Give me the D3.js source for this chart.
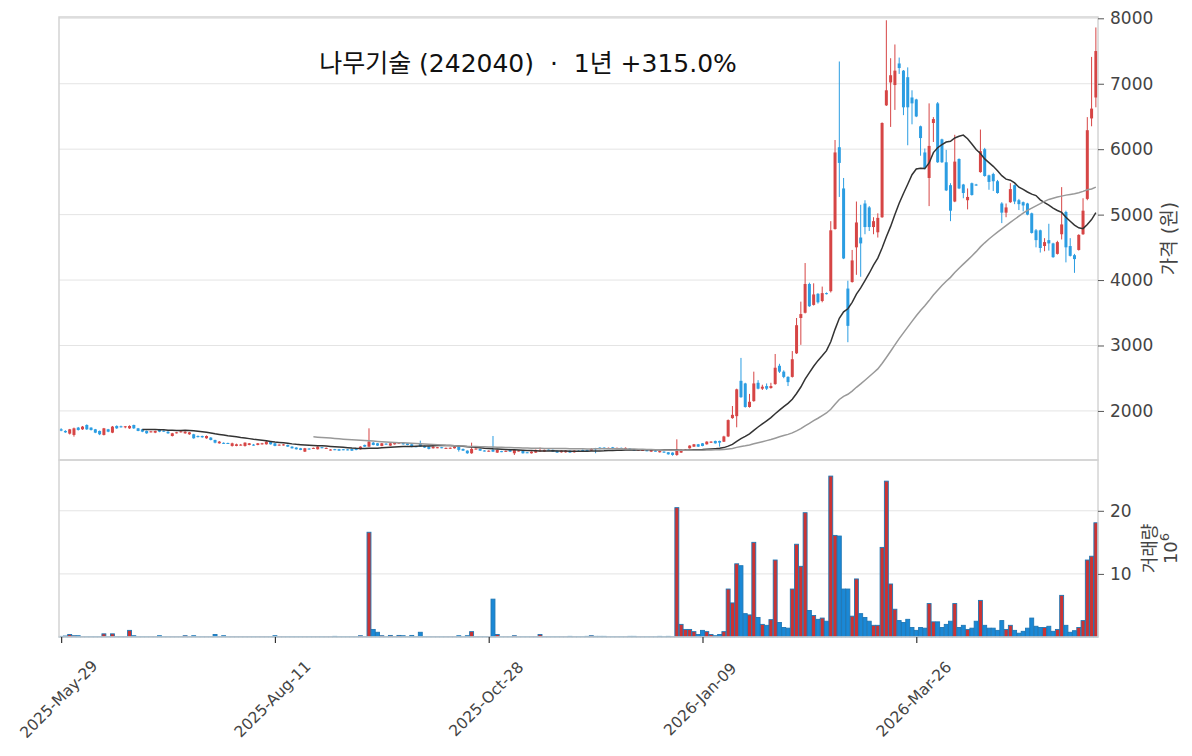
<!DOCTYPE html>
<html>
<head>
<meta charset="utf-8">
<script src="https://cdn.jsdelivr.net/npm/d3@7"></script>
<style>
  body { margin: 0; background: #fff; }
  svg { display: block; font-family: "DejaVu Sans", "Noto Sans CJK KR", sans-serif; }
</style>
</head>
<body>
<figure id="chart" style="margin:0"></figure>
<script>
// daily OHLC, one entry per trading day
const opens = [
  1719,1694,1653,1633,1745,1719,1785,1745,1719,1694,
  1633,1719,1668,1770,1765,1755,1734,1785,1734,1719,
  1694,1678,1668,1719,1698,1683,1617,1663,1678,1658,
  1643,1643,1617,1617,1582,1592,1556,1505,1512,1510,
  1465,1465,1475,1465,1480,1485,1480,1490,1490,1531,
  1505,1475,1478,1480,1454,1440,1429,1378,1425,1425,
  1414,1445,1425,1400,1415,1414,1414,1412,1419,1429,
  1414,1480,1454,1515,1505,1465,1500,1470,1490,1505,
  1515,1505,1490,1460,1505,1465,1454,1429,1435,1445,
  1425,1427,1429,1454,1419,1393,1353,1415,1419,1395,
  1382,1404,1363,1385,1380,1414,1353,1385,1393,1368,
  1353,1363,1385,1378,1408,1404,1393,1368,1368,1393,
  1368,1392,1404,1404,1393,1429,1439,1439,1425,1444,
  1425,1435,1425,1425,1410,1400,1393,1398,1378,1392,
  1368,1378,1368,1363,1327,1363,1400,1429,1454,1490,
  1505,1490,1515,1541,1541,1530,1610,1890,1920,2460,
  2420,2060,2150,2430,2340,2380,2350,2410,2690,2600,
  2520,2520,2880,3420,3500,3940,3620,3790,3680,3800,
  3830,4780,6030,5400,3870,3970,4500,4650,5170,5110,
  4810,4730,4960,6670,7020,6980,7310,7200,7100,6790,
  6760,6350,5950,5560,6400,6700,6150,5800,5450,5200,
  5850,5460,5220,5480,5460,5650,6000,5600,5620,5510,
  5170,5030,5190,5450,5220,5190,5170,5020,4760,4760,
  4520,4610,4560,4400,4700,5040,4520,4380,4460,4700,
  5240,6470,6790
];
const highs = [
  1735,1705,1725,1745,1755,1770,1795,1750,1725,1700,
  1740,1725,1770,1780,1775,1770,1780,1790,1740,1725,
  1700,1695,1700,1725,1705,1690,1665,1680,1695,1690,
  1680,1650,1625,1622,1625,1600,1560,1540,1520,1515,
  1515,1500,1495,1520,1510,1495,1510,1512,1540,1535,
  1510,1490,1495,1485,1460,1445,1435,1435,1430,1440,
  1460,1450,1440,1415,1420,1420,1420,1418,1425,1435,
  1460,1485,1734,1525,1510,1510,1505,1510,1522,1520,
  1520,1510,1495,1465,1546,1470,1460,1460,1450,1450,
  1440,1442,1460,1460,1425,1398,1515,1430,1425,1400,
  1398,1617,1410,1390,1395,1420,1410,1400,1398,1372,
  1383,1410,1440,1410,1412,1410,1398,1398,1400,1398,
  1398,1398,1410,1408,1430,1435,1445,1445,1440,1450,
  1440,1440,1442,1430,1415,1415,1410,1402,1410,1398,
  1393,1383,1372,1368,1566,1410,1415,1475,1495,1495,
  1510,1536,1536,1546,1546,1620,1870,2075,2340,2810,
  2430,2260,2600,2470,2400,2420,2430,2870,2720,2620,
  2530,2915,3420,3670,4260,3960,3950,3800,3900,3810,
  4900,6140,7340,5560,3990,4460,5200,5150,5220,5130,
  4960,5020,6410,7970,7390,7600,7400,7210,7250,6900,
  6770,6360,6010,6700,6490,6720,6160,5990,5480,6220,
  5860,5470,5400,5490,5470,6300,6020,5610,5640,5530,
  5190,5170,5480,5460,5240,5200,5180,5030,4780,4770,
  4640,4860,4570,4600,5420,5060,4640,4400,4700,5250,
  6490,7410,7860
];
const lows = [
  1690,1665,1640,1607,1700,1710,1710,1700,1660,1630,
  1625,1675,1660,1725,1745,1735,1725,1725,1690,1675,
  1650,1670,1660,1675,1680,1650,1610,1655,1670,1650,
  1635,1575,1595,1590,1575,1550,1505,1500,1495,1495,
  1455,1460,1470,1455,1475,1468,1475,1485,1485,1485,
  1460,1470,1470,1450,1425,1410,1400,1372,1410,1420,
  1410,1430,1420,1395,1400,1390,1400,1398,1388,1398,
  1410,1450,1450,1475,1465,1460,1485,1465,1485,1500,
  1485,1475,1445,1445,1450,1435,1412,1425,1430,1430,
  1420,1420,1425,1378,1388,1345,1345,1410,1388,1380,
  1378,1372,1358,1370,1375,1372,1327,1380,1348,1355,
  1348,1358,1378,1372,1395,1372,1358,1362,1362,1358,
  1362,1380,1372,1375,1388,1353,1414,1414,1420,1414,
  1420,1420,1420,1410,1395,1395,1388,1385,1372,1380,
  1362,1358,1332,1315,1315,1358,1395,1425,1450,1450,
  1460,1485,1510,1500,1454,1525,1600,1880,1750,2200,
  2050,2050,2140,2330,2320,2320,2340,2400,2580,2500,
  2380,2510,2870,3010,3490,3590,3610,3640,3660,3780,
  3810,4770,5270,4320,3050,3960,4080,4050,4700,4750,
  4700,4650,4950,6660,6340,6600,7150,6520,6060,6380,
  6490,5900,5690,5130,6110,5790,5790,5360,4900,5190,
  5390,5250,5080,5290,5440,5640,5580,5380,5360,5320,
  4870,4960,5180,5160,5070,5050,4990,4710,4500,4420,
  4440,4450,4340,4390,4620,4270,4360,4110,4450,4690,
  5220,6350,6640
];
const closes = [
  1699,1673,1719,1734,1709,1760,1719,1709,1668,1643,
  1734,1683,1760,1734,1755,1765,1770,1734,1694,1683,
  1658,1688,1694,1683,1688,1658,1658,1673,1688,1683,
  1673,1582,1600,1597,1617,1556,1515,1531,1500,1500,
  1505,1490,1485,1515,1505,1475,1505,1505,1531,1490,
  1465,1485,1488,1454,1429,1414,1404,1429,1415,1435,
  1454,1435,1435,1410,1405,1393,1405,1404,1393,1404,
  1454,1454,1531,1480,1470,1505,1490,1505,1515,1515,
  1490,1480,1454,1450,1454,1440,1419,1454,1445,1435,
  1435,1437,1454,1404,1393,1353,1419,1425,1393,1385,
  1392,1378,1404,1375,1390,1378,1404,1395,1353,1360,
  1378,1404,1395,1404,1400,1378,1363,1393,1393,1363,
  1393,1385,1378,1380,1419,1414,1419,1419,1435,1419,
  1435,1425,1435,1415,1400,1410,1404,1390,1404,1385,
  1388,1363,1337,1327,1404,1404,1410,1470,1490,1454,
  1465,1531,1531,1505,1515,1610,1860,1940,2330,2210,
  2060,2140,2420,2340,2370,2340,2380,2660,2600,2520,
  2440,2790,3310,3480,3940,3600,3780,3660,3800,3790,
  4760,5950,5790,4330,3300,4300,4880,4560,4810,4810,
  4900,4950,6400,6900,7130,7200,7240,6640,6640,6700,
  6500,6170,5710,6050,6460,5800,5800,5370,5060,5810,
  5400,5330,5270,5300,5450,5970,5590,5500,5510,5330,
  5030,5110,5390,5200,5160,5140,5000,4720,4610,4490,
  4580,4560,4350,4580,4850,4500,4370,4320,4690,5060,
  6290,6620,7500
];
// volume in millions of shares
const volumes = [
  0.1,0.15,0.4,0.2,0.2,0.05,0.05,0.05,0.05,0.05,
  0.5,0.05,0.5,0.05,0.05,0.05,1.05,0.2,0.05,0.05,
  0.05,0.05,0.05,0.2,0.05,0.05,0.05,0.05,0.05,0.2,
  0.05,0.2,0.05,0.05,0.05,0.05,0.4,0.05,0.2,0.05,
  0.05,0.05,0.05,0.05,0.05,0.05,0.05,0.05,0.05,0.05,
  0.2,0.05,0.05,0.05,0.05,0.05,0.05,0.05,0.05,0.05,
  0.05,0.05,0.05,0.05,0.1,0.05,0.05,0.05,0.05,0.05,
  0.2,0.05,16.6,1.2,0.75,0.2,0.05,0.25,0.05,0.25,
  0.2,0.05,0.25,0.05,0.75,0.05,0.05,0.05,0.05,0.05,
  0.05,0.05,0.05,0.2,0.05,0.2,0.85,0.05,0.05,0.05,
  0.05,6.0,0.4,0.05,0.05,0.05,0.2,0.05,0.05,0.05,
  0.05,0.05,0.4,0.05,0.05,0.05,0.05,0.05,0.05,0.1,
  0.05,0.05,0.05,0.1,0.2,0.1,0.1,0.1,0.05,0.05,
  0.05,0.05,0.05,0.1,0.1,0.05,0.05,0.05,0.05,0.05,
  0.1,0.05,0.1,0.05,20.5,2.0,1.2,1.2,0.85,0.4,
  1.05,0.85,0.4,0.2,0.4,0.85,7.6,5.4,11.6,11.3,
  3.7,3.5,15.0,3.1,2.0,1.85,2.75,12.2,2.3,1.5,
  1.4,7.6,14.7,11.2,19.7,4.2,3.4,2.8,3.0,2.5,
  25.5,16.1,16.0,7.6,7.6,3.3,9.2,3.7,3.1,2.5,
  1.85,1.85,14.2,24.7,8.4,4.4,2.6,2.3,2.8,1.5,
  1.05,1.5,1.4,5.3,2.4,2.4,1.5,2.0,2.5,5.3,
  1.5,1.85,1.2,1.4,2.5,5.8,1.85,1.4,1.4,1.05,
  2.6,1.2,1.85,1.05,0.6,0.9,1.4,3.0,1.7,1.5,
  1.5,1.7,0.9,1.2,6.6,1.85,0.75,1.0,1.5,2.6,
  12.2,12.8,18.1
];
const tickIdx = [0, 50, 100, 150, 200];
const tickLabels = ["2025-May-29", "2025-Aug-11", "2025-Oct-28", "2026-Jan-09", "2026-Mar-26"];
const priceTicks = [2000, 3000, 4000, 5000, 6000, 7000, 8000];
const volTicks = [10, 20];
const maPeriods = [20, 60];

const W = 1192, H = 756;
const left = 59, right = 1098;
const priceTop = 17, priceBottom = 460;
const volTop = 460, volBottom = 637;

const upCandle = "#d64545", downCandle = "#2b9de2";
const upVol = "#cc3333", downVol = "#1a88d6", volEdge = "#1f77b4";
const maColors = ["#333333", "#999999"];

const n = closes.length;
const svg = d3.select("figure#chart").append("svg")
  .attr("width", W).attr("height", H);

svg.append("rect").attr("width", W).attr("height", H).attr("fill", "#fff");

const x = d3.scaleLinear().domain([-0.5, n - 0.5]).range([left, right]);
const step = x(1) - x(0);
const y = d3.scaleLinear().domain([1250, 8020]).range([priceBottom, priceTop]);
const yv = d3.scaleLinear().domain([0, 1.1 * d3.max(volumes)]).range([volBottom, volTop]);

// horizontal grid
svg.append("g").selectAll("line").data(priceTicks).enter().append("line")
  .attr("x1", left).attr("x2", right)
  .attr("y1", d => y(d)).attr("y2", d => y(d))
  .attr("stroke", "#e4e4e4").attr("stroke-width", 1);
svg.append("g").selectAll("line").data(volTicks).enter().append("line")
  .attr("x1", left).attr("x2", right)
  .attr("y1", d => yv(d)).attr("y2", d => yv(d))
  .attr("stroke", "#e4e4e4").attr("stroke-width", 1);

const idx = d3.range(n);
const isUp = i => closes[i] >= opens[i];

// candles
const candles = svg.append("g");
candles.selectAll("line").data(idx).enter().append("line")
  .attr("x1", i => x(i)).attr("x2", i => x(i))
  .attr("y1", i => y(highs[i])).attr("y2", i => y(lows[i]))
  .attr("stroke", i => isUp(i) ? upCandle : downCandle)
  .attr("stroke-width", 1);
candles.selectAll("rect").data(idx).enter().append("rect")
  .attr("x", i => x(i) - step * 0.35)
  .attr("width", step * 0.7)
  .attr("y", i => y(Math.max(opens[i], closes[i])))
  .attr("height", i => Math.max(1, Math.abs(y(opens[i]) - y(closes[i]))))
  .attr("fill", i => isUp(i) ? upCandle : downCandle);

// moving averages
maPeriods.forEach((p, k) => {
  const pts = [];
  for (let i = p - 1; i < n; i++) {
    pts.push([i, d3.mean(closes.slice(i - p + 1, i + 1))]);
  }
  svg.append("path")
    .datum(pts)
    .attr("fill", "none")
    .attr("stroke", maColors[k])
    .attr("stroke-width", 1.5)
    .attr("d", d3.line().x(d => x(d[0])).y(d => y(d[1])));
});

// volume bars
svg.append("g").selectAll("rect").data(idx).enter().append("rect")
  .attr("x", i => x(i) - step * 0.46)
  .attr("width", step * 0.92)
  .attr("y", i => yv(volumes[i]))
  .attr("height", i => volBottom - yv(volumes[i]))
  .attr("fill", i => isUp(i) ? upVol : downVol)
  .attr("stroke", volEdge)
  .attr("stroke-width", 0.9);

// panel frames
svg.append("rect").attr("x", left).attr("y", priceTop)
  .attr("width", right - left).attr("height", priceBottom - priceTop)
  .attr("fill", "none").attr("stroke", "#d4d4d4").attr("stroke-width", 1.5);
svg.append("rect").attr("x", left).attr("y", volTop)
  .attr("width", right - left).attr("height", volBottom - volTop)
  .attr("fill", "none").attr("stroke", "#d4d4d4").attr("stroke-width", 1.5);

// right axes
const styleAxis = g => {
  g.select(".domain").remove();
  g.selectAll(".tick line").attr("stroke", "#555");
  g.selectAll(".tick text").attr("fill", "#444").style("font-size", "17px")
    .style("font-family", "DejaVu Sans, sans-serif");
};
svg.append("g").attr("transform", `translate(${right},0)`)
  .call(d3.axisRight(y).tickValues(priceTicks).tickSize(6).tickPadding(6).tickFormat(d3.format("d")))
  .call(styleAxis);
svg.append("g").attr("transform", `translate(${right},0)`)
  .call(d3.axisRight(yv).tickValues(volTicks).tickSize(6).tickPadding(6).tickFormat(d3.format("d")))
  .call(styleAxis);

// bottom axis
const xa = svg.append("g").attr("transform", `translate(0,${volBottom})`)
  .call(d3.axisBottom(x).tickValues(tickIdx).tickSize(6).tickFormat((d, i) => tickLabels[i]));
xa.select(".domain").remove();
xa.selectAll(".tick line").attr("stroke", "#333").attr("stroke-width", 1.2);
xa.selectAll(".tick text")
  .attr("x", 0).attr("y", 0).attr("dy", "0.35em")
  .attr("text-anchor", "middle")
  .attr("transform", "translate(-3,62) rotate(-45)")
  .attr("fill", "#444")
  .style("font-size", "15.5px")
  .style("font-family", "DejaVu Sans, sans-serif");

// title
svg.append("text")
  .attr("x", 528).attr("y", 72)
  .attr("text-anchor", "middle")
  .attr("fill", "#111")
  .style("font-size", "25px")
  .style("white-space", "pre")
  .style("font-family", "DejaVu Sans, Noto Sans CJK KR, sans-serif")
  .text("나무기술 (242040)  ·  1년 +315.0%");

// y labels
svg.append("text")
  .attr("transform", `translate(1176,${(priceTop + priceBottom) / 2}) rotate(-90)`)
  .attr("text-anchor", "middle")
  .attr("fill", "#444")
  .style("font-size", "19px")
  .style("font-family", "DejaVu Sans, Noto Sans CJK KR, sans-serif")
  .text("가격 (원)");

const vl = svg.append("text")
  .attr("transform", `translate(1156,${(volTop + volBottom) / 2}) rotate(-90)`)
  .attr("text-anchor", "middle")
  .attr("fill", "#444")
  .style("font-size", "18px")
  .style("font-family", "DejaVu Sans, Noto Sans CJK KR, sans-serif");
vl.append("tspan").attr("x", 0).attr("dy", 0).text("거래량");
const l2 = vl.append("tspan").attr("x", 0).attr("dy", 21);
l2.append("tspan").text("10");
l2.append("tspan").attr("dy", -8).style("font-size", "13px").text("6");
</script>
</body>
</html>
